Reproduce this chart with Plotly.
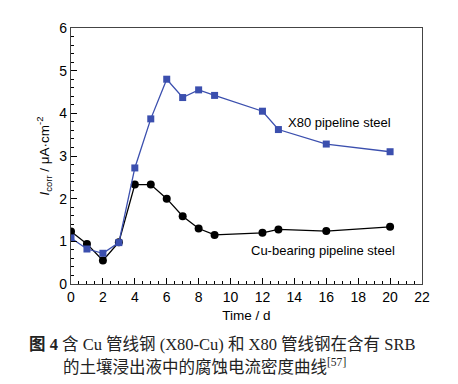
import plotly.graph_objects as go

time_x80 = [0, 1, 2, 3, 4, 5, 6, 7, 8, 9, 12, 13, 16, 20]
icorr_x80 = [1.08, 0.82, 0.72, 0.97, 2.72, 3.87, 4.80, 4.37, 4.55, 4.42, 4.05, 3.62, 3.28, 3.10]
time_cu = [0, 1, 2, 3, 4, 5, 6, 7, 8, 9, 12, 13, 16, 20]
icorr_cu = [1.23, 0.94, 0.55, 0.98, 2.33, 2.33, 2.00, 1.59, 1.30, 1.15, 1.20, 1.28, 1.24, 1.34]

x_ticks = [0, 2, 4, 6, 8, 10, 12, 14, 16, 18, 20, 22]
y_ticks = [0, 1, 2, 3, 4, 5, 6]

blue = "#3b4fae"
font_family = "Arial"

fig = go.Figure()
fig.add_trace(go.Scatter(
    x=time_cu, y=icorr_cu, mode="lines+markers",
    line=dict(color="black", width=1.3),
    marker=dict(symbol="circle", size=8, color="black"),
    name="Cu-bearing pipeline steel", showlegend=False))
fig.add_trace(go.Scatter(
    x=time_x80, y=icorr_x80, mode="lines+markers",
    line=dict(color=blue, width=1.3),
    marker=dict(symbol="square", size=7, color=blue),
    name="X80 pipeline steel", showlegend=False))

fig.add_annotation(x=13.5, y=3.79, text="X80 pipeline steel", showarrow=False,
                   xanchor="left", yanchor="middle", font=dict(size=13, color="black"))
fig.add_annotation(x=11.15, y=0.78, text="Cu-bearing pipeline steel", showarrow=False,
                   xanchor="left", yanchor="middle", font=dict(size=13, color="black"))

cap_font = "Liberation Serif, Noto Sans CJK SC, serif"
fig.add_annotation(xref="paper", yref="paper", x=-0.125, y=-0.236, xanchor="left", yanchor="middle",
                   text="<b>图 4</b> 含 Cu 管线钢 (X80-Cu) 和 X80 管线钢在含有 SRB",
                   showarrow=False, font=dict(size=16.5, color="#222", family=cap_font))
fig.add_annotation(xref="paper", yref="paper", x=-0.029, y=-0.322, xanchor="left", yanchor="middle",
                   text="的土壤浸出液中的腐蚀电流密度曲线<sup>[57]</sup>",
                   showarrow=False, font=dict(size=16.5, color="#222", family=cap_font))

fig.update_layout(
    width=450, height=376,
    margin=dict(l=63, r=36, t=15, b=100),
    paper_bgcolor="white", plot_bgcolor="white",
    font=dict(family=font_family, size=13, color="black"),
)
fig.update_xaxes(
    range=[0, 22], tickvals=x_ticks, ticktext=[str(v) for v in x_ticks],
    ticks="inside", ticklen=6, tickcolor="black", tickwidth=1,
    minor=dict(dtick=0.5, ticks="inside", ticklen=3, tickcolor="black"),
    showline=True, linecolor="#444", linewidth=1.2, mirror=True,
    showgrid=False, zeroline=False,
    title=dict(text="Time / d", font=dict(size=13.5), standoff=6),
    tickfont=dict(size=14),
)
fig.update_yaxes(
    range=[0, 6], tickvals=y_ticks, ticktext=[str(v) for v in y_ticks],
    ticks="inside", ticklen=6, tickcolor="black", tickwidth=1,
    minor=dict(dtick=0.2, ticks="inside", ticklen=3, tickcolor="black"),
    showline=True, linecolor="#444", linewidth=1.2, mirror=True,
    showgrid=False, zeroline=False,
    title=dict(text="<i>I</i><sub>corr</sub> / μA·cm<sup>-2</sup>", font=dict(size=13.5), standoff=6),
    tickfont=dict(size=14),
)

fig.write_html("out.html")
